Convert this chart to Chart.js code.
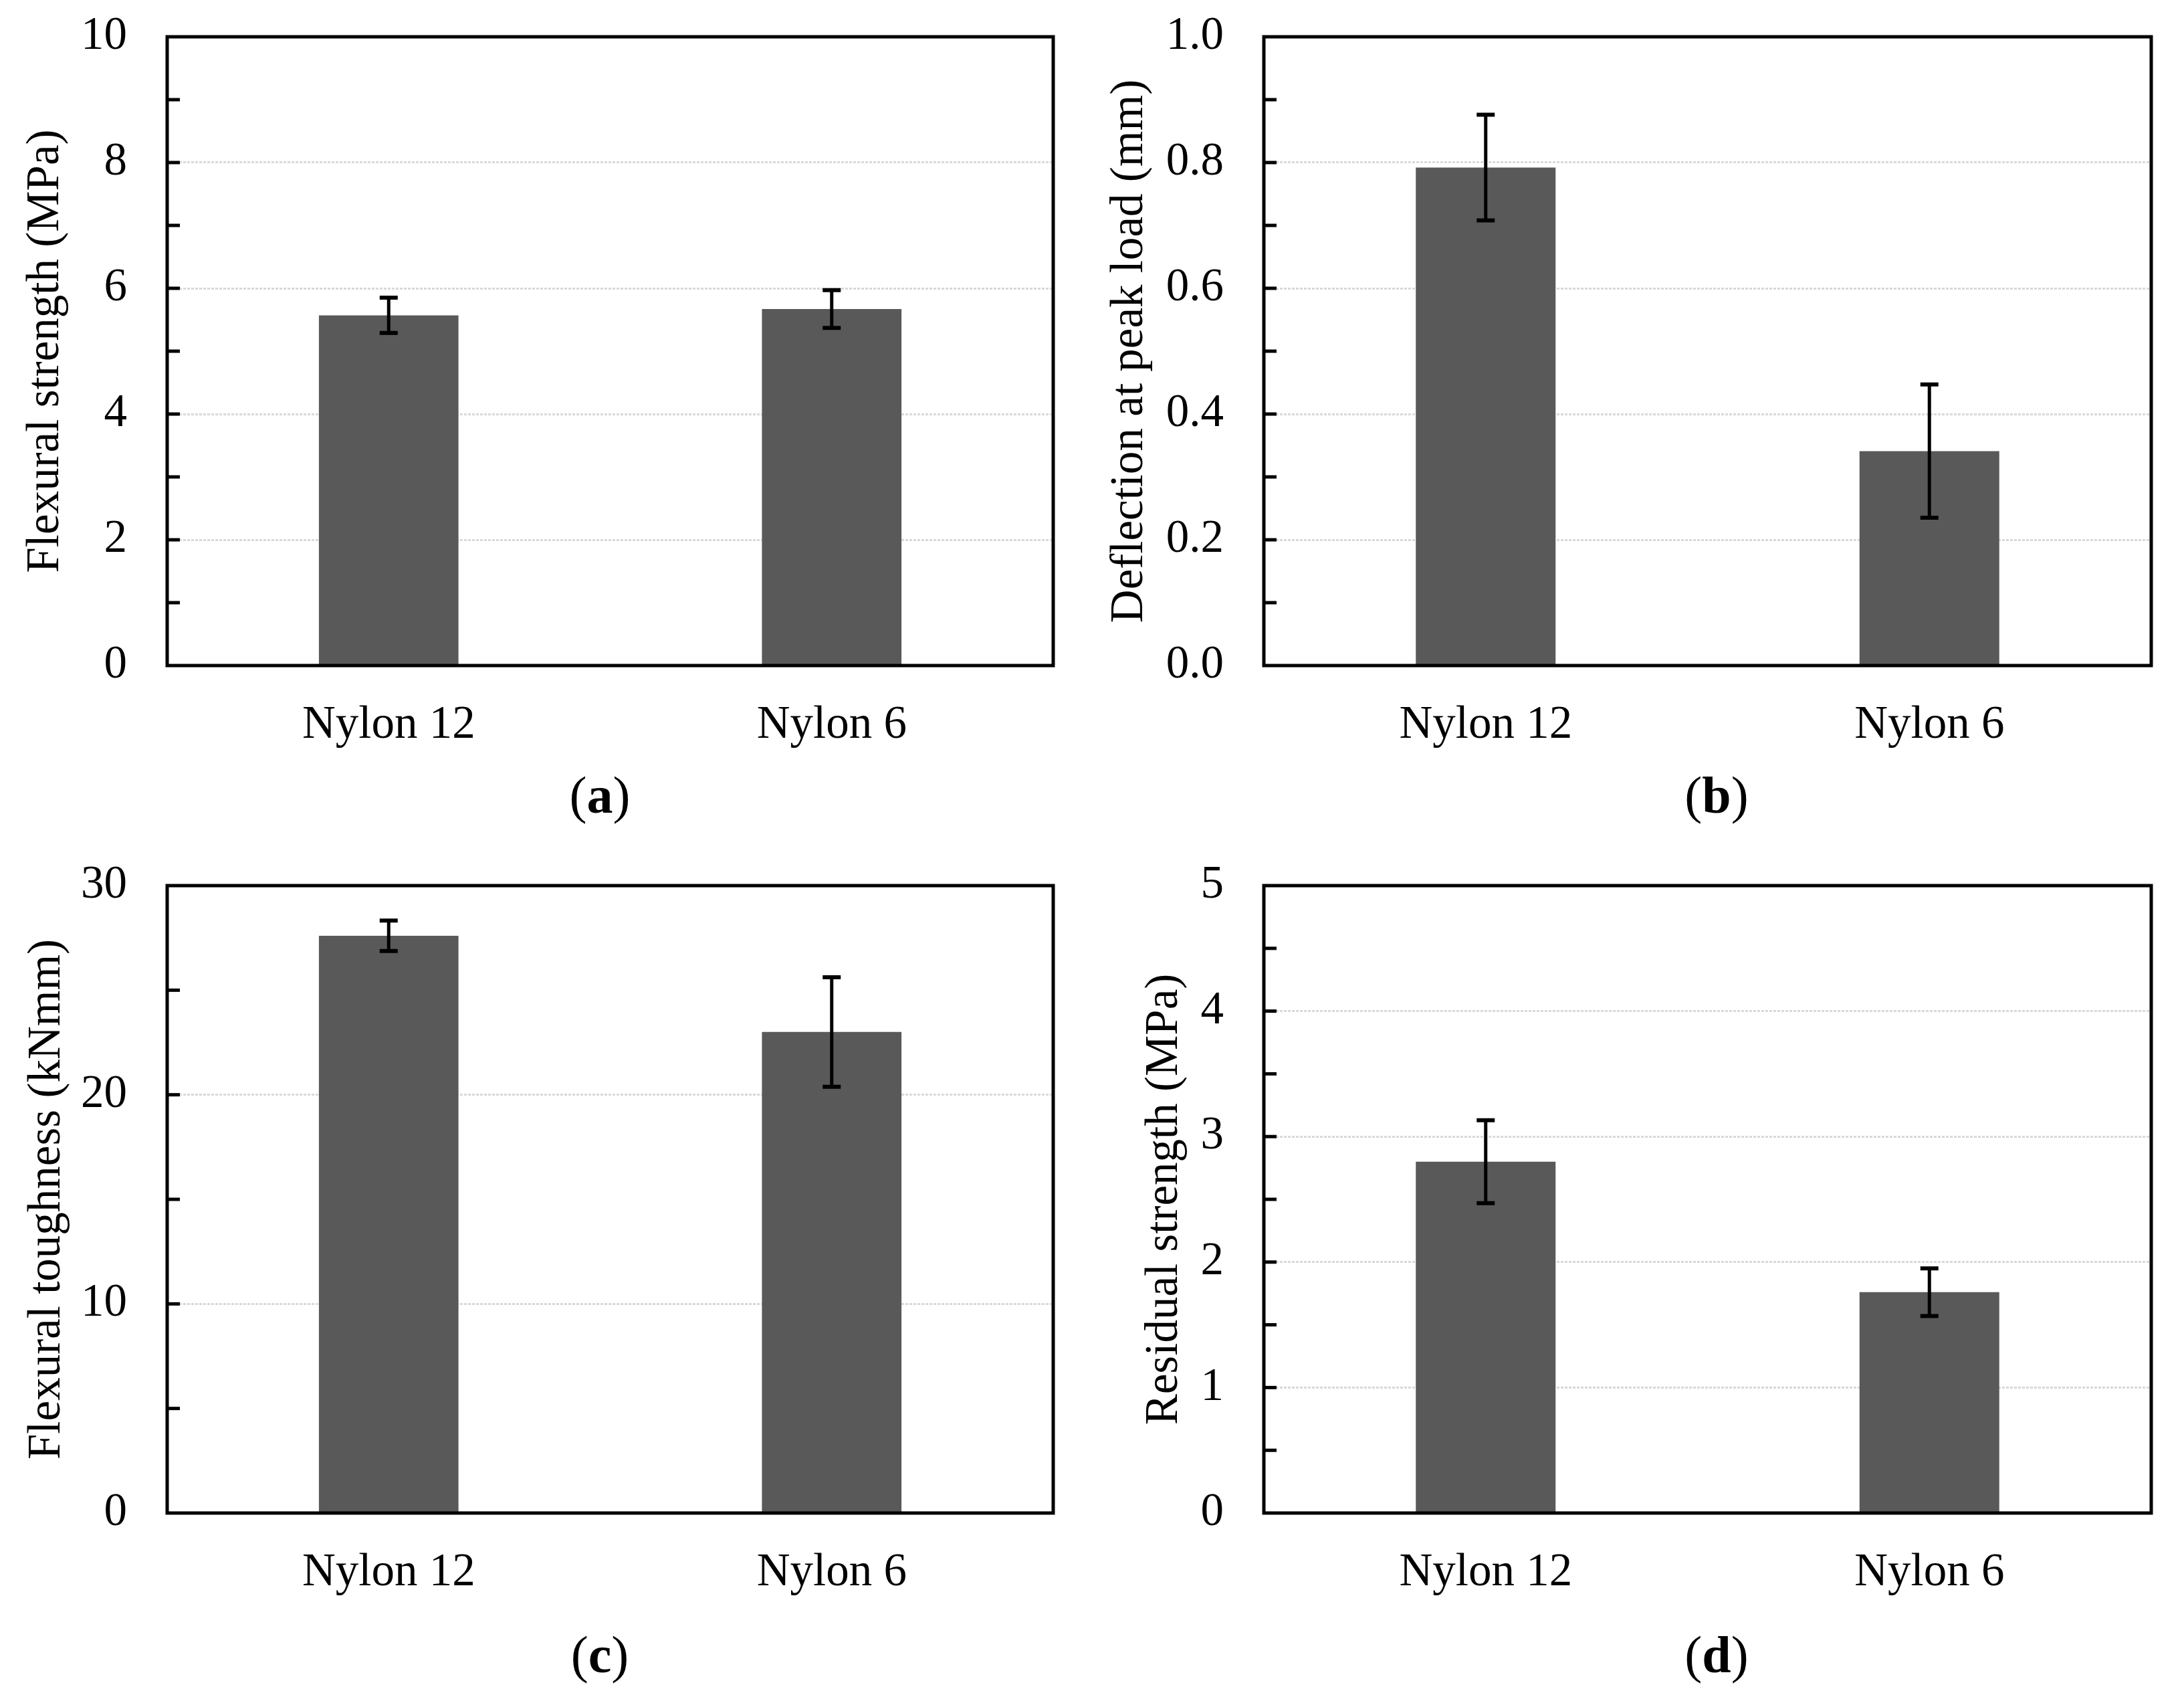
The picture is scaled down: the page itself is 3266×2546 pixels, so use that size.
<!DOCTYPE html>
<html>
<head>
<meta charset="utf-8">
<script src="https://cdn.jsdelivr.net/npm/chart.js@4.4.1/dist/chart.umd.min.js"></script>
<style>
  html, body { margin: 0; padding: 0; background: #fff; }
  #wrap { position: relative; width: 3266px; height: 2546px; }
  canvas { position: absolute; }
</style>
</head>
<body>
<div id="wrap">
  <canvas id="chartA" width="1633" height="1273" style="left:0;top:0;width:1633px;height:1273px"></canvas>
  <canvas id="chartB" width="1633" height="1273" style="left:1633px;top:0;width:1633px;height:1273px"></canvas>
  <canvas id="chartC" width="1633" height="1273" style="left:0;top:1273px;width:1633px;height:1273px"></canvas>
  <canvas id="chartD" width="1633" height="1273" style="left:1633px;top:1273px;width:1633px;height:1273px"></canvas>
</div>
<script>
const categories = ['Nylon 12', 'Nylon 6'];

// (a) flexural strength, MPa
const strengthMean = [5.57, 5.67];
const strengthErr = [0.28, 0.30];
// (b) deflection at peak load, mm
const deflectionMean = [0.792, 0.341];
const deflectionErr = [0.084, 0.106];
// (c) flexural toughness, kNmm
const toughnessMean = [27.6, 23.0];
const toughnessErr = [0.73, 2.62];
// (d) residual strength, MPa
const residualMean = [2.80, 1.76];
const residualErr = [0.33, 0.19];

// y axes of a, b, c, d
const yMax = [10, 1.0, 30, 5];
const yStep = [2, 0.2, 10, 1];
const yMinor = [1, 0.1, 5, 0.5];
const yTitles = ['Flexural strength (MPa)', 'Deflection at peak load (mm)',
                 'Flexural toughness (kNmm)', 'Residual strength (MPa)'];
const panelLetters = ['a', 'b', 'c', 'd'];

const FONT = "'Liberation Serif', 'Times New Roman', serif";
Chart.defaults.font.family = FONT;
Chart.defaults.font.size = 69;
Chart.defaults.color = '#000';

// ticks inside the frame, error bars, frame, panel letter
const decor = {
  id: 'decor',
  afterDatasetsDraw(chart, args, o) {
    const ctx = chart.ctx;
    const area = chart.chartArea;
    const ys = chart.scales.y;
    ctx.save();
    ctx.strokeStyle = '#000';

    // inward ticks
    ctx.lineWidth = 5;
    const n = Math.round(o.max / o.minor);
    for (let i = 1; i < n; i++) {
      const y = ys.getPixelForValue(i * o.minor);
      ctx.beginPath();
      ctx.moveTo(area.left, y);
      ctx.lineTo(area.left + 19, y);
      ctx.stroke();
    }

    // error bars
    const meta = chart.getDatasetMeta(0);
    meta.data.forEach((bar, i) => {
      const v = o.values[i], e = o.errors[i];
      const yTop = ys.getPixelForValue(v + e);
      const yBot = ys.getPixelForValue(v - e);
      ctx.lineWidth = 5;
      ctx.beginPath();
      ctx.moveTo(bar.x, yTop);
      ctx.lineTo(bar.x, yBot);
      ctx.stroke();
      ctx.lineWidth = 6;
      ctx.beginPath();
      ctx.moveTo(bar.x - 13.5, yTop);
      ctx.lineTo(bar.x + 13.5, yTop);
      ctx.moveTo(bar.x - 13.5, yBot);
      ctx.lineTo(bar.x + 13.5, yBot);
      ctx.stroke();
    });

    // frame
    ctx.lineWidth = 5;
    ctx.strokeRect(area.left, area.top, area.right - area.left, area.bottom - area.top);
    ctx.restore();
  },
  afterDraw(chart, args, o) {
    const ctx = chart.ctx;
    ctx.save();
    ctx.fillStyle = '#000';
    ctx.textBaseline = 'alphabetic';
    const reg = '78px ' + FONT, bold = 'bold 78px ' + FONT;
    ctx.font = reg;
    const wp = ctx.measureText('(').width, wq = ctx.measureText(')').width;
    ctx.font = bold;
    const wl = ctx.measureText(o.letter).width;
    let x = o.labelX - (wp + wl + wq) / 2;
    const y = chart.chartArea.bottom + o.labelDy;
    ctx.font = reg; ctx.fillText('(', x, y); x += wp;
    ctx.font = bold; ctx.fillText(o.letter, x, y); x += wl;
    ctx.font = reg; ctx.fillText(')', x, y);
    ctx.restore();
  }
};

function makePanel(id, k, values, errors, layout) {
  const max = yMax[k];
  return new Chart(document.getElementById(id), {
    type: 'bar',
    data: {
      labels: categories,
      datasets: [{
        data: values,
        backgroundColor: '#595959',
        borderWidth: 0,
        categoryPercentage: 1,
        barPercentage: 0.315
      }]
    },
    options: {
      responsive: false,
      animation: false,
      devicePixelRatio: 1,
      layout: { padding: { top: layout.top, right: layout.right, left: 0, bottom: 0 } },
      plugins: {
        legend: { display: false },
        tooltip: { enabled: false },
        decor: {
          values: values, errors: errors, max: max, minor: yMinor[k],
          letter: panelLetters[k], labelX: layout.labelX, labelDy: layout.labelDy
        }
      },
      scales: {
        x: {
          grid: { display: false },
          border: { display: false },
          ticks: { padding: 40, font: { size: 69 } },
          afterFit: s => { s.height = layout.xHeight; s.paddingLeft = 0; s.paddingRight = 0; }
        },
        y: {
          min: 0,
          max: max,
          border: { display: false, dash: [4, 2] },
          grid: {
            drawTicks: false,
            lineWidth: 3,
            color: c => (c.tick && (Math.abs(c.tick.value) < 1e-9 || Math.abs(c.tick.value - max) < 1e-9))
              ? 'rgba(0,0,0,0)' : '#d9d9d9'
          },
          ticks: {
            stepSize: yStep[k],
            padding: 60,
            font: { size: 69 },
            callback: v => k === 1 ? Number(v).toFixed(1) : String(Math.round(v))
          },
          title: { display: true, text: yTitles[k], font: { size: 69 }, padding: { top: layout.titlePad, bottom: 0 } },
          afterFit: s => { s.width = layout.yWidth; s.paddingTop = 0; s.paddingBottom = 0; }
        }
      }
    },
    plugins: [decor]
  });
}

makePanel('chartA', 0, strengthMean, strengthErr,
  { top: 55, right: 58, yWidth: 250, xHeight: 278, titlePad: 27, labelX: 897, labelDy: 220 });
makePanel('chartB', 1, deflectionMean, deflectionErr,
  { top: 55, right: 49, yWidth: 257, xHeight: 278, titlePad: 15, labelX: 934, labelDy: 220 });
makePanel('chartC', 2, toughnessMean, toughnessErr,
  { top: 51, right: 58, yWidth: 250, xHeight: 284, titlePad: 29, labelX: 897, labelDy: 238 });
makePanel('chartD', 3, residualMean, residualErr,
  { top: 51, right: 49, yWidth: 257, xHeight: 284, titlePad: 67, labelX: 934, labelDy: 238 });
</script>
</body>
</html>
